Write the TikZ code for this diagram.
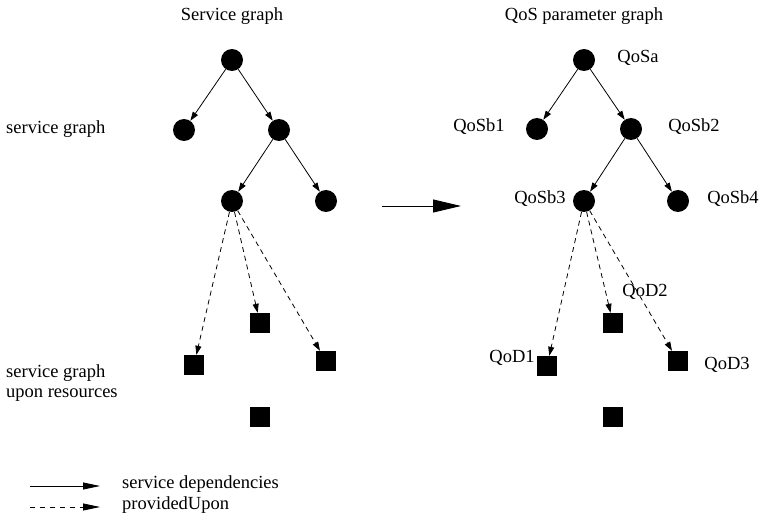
\documentclass[tikz,border=0pt]{standalone}
\usepackage{fontspec}
\setmainfont{Liberation Serif}
\usetikzlibrary{arrows.meta,positioning}

\begin{document}
\begin{tikzpicture}[
  x=1pt, y=-1pt,
  every node/.style={font=\fontsize{18.5}{20}\selectfont, inner sep=0pt},
  svc/.style={circle, fill=black, minimum size=22pt},
  res/.style={rectangle, fill=black, minimum size=20pt},
  dep/.style={-{Triangle[length=9pt,width=6pt]}, line width=0.8pt},
  upon/.style={dep, dash pattern=on 5pt off 4pt},
  lbl/.style={anchor=mid}
]
  \useasboundingbox (0,0) rectangle (761,524);

  % titles and row labels
  \node[lbl] (t1) at (232,18) {Service graph};
  \node[lbl] (t2) at (584,18) {QoS parameter graph};
  \node[lbl, anchor=mid west] (r1) at (6,131) {service graph};
  \node[anchor=west, align=left] (r2) at (6,383) {service graph\\upon resources};

  % service graph (left)
  \node[svc] (a)  at (232,60)  {};
  \node[svc] (b1) at (184,130) {};
  \node[svc] (b2) at (279,130) {};
  \node[svc] (b3) at (232,201) {};
  \node[svc] (b4) at (326,201) {};
  \node[res] (d1) at (194,365) {};
  \node[res] (d2) at (260,323) {};
  \node[res] (d3) at (326,361) {};
  \node[res] (d4) at (260,417) {};

  \draw[dep] (a) -- (b1);
  \draw[dep] (a) -- (b2);
  \draw[dep] (b2) -- (b3);
  \draw[dep] (b2) -- (b4);
  \draw[upon] (b3) -- (d1);
  \draw[upon] (b3) -- (d2);
  \draw[upon] (b3) -- (d3);

  % mapping arrow
  \coordinate (m1) at (382,206);
  \coordinate (m2) at (461,206);
  \draw[-{Triangle[length=28pt,width=13pt]}, line width=0.8pt] (m1) -- (m2);

  % QoS parameter graph (right)
  \node[svc] (qa)  at (584,60)  {};
  \node[svc] (qb1) at (537,129) {};
  \node[svc] (qb2) at (631,129) {};
  \node[svc] (qb3) at (584,201) {};
  \node[svc] (qb4) at (678,201) {};
  \node[res] (qd1) at (547,366) {};
  \node[res] (qd2) at (613,323) {};
  \node[res] (qd3) at (678,361) {};
  \node[res] (qd4) at (613,417) {};

  \draw[dep] (qa) -- (qb1);
  \draw[dep] (qa) -- (qb2);
  \draw[dep] (qb2) -- (qb3);
  \draw[dep] (qb2) -- (qb4);
  \draw[upon] (qb3) -- (qd1);
  \draw[upon] (qb3) -- (qd2);
  \draw[upon] (qb3) -- (qd3);

  \node[lbl] (la)  at (638,60)  {QoSa};
  \node[lbl] (lb1) at (479,129) {QoSb1};
  \node[lbl] (lb2) at (694,129) {QoSb2};
  \node[lbl] (lb3) at (540,201) {QoSb3};
  \node[lbl] (lb4) at (733,201) {QoSb4};
  \node[lbl] (ld1) at (512,360) {QoD1};
  \node[lbl] (ld2) at (645,294) {QoD2};
  \node[lbl] (ld3) at (727,367) {QoD3};

  % legend
  \coordinate (k1) at (30,486);
  \coordinate (k2) at (100,486);
  \coordinate (k3) at (30,507);
  \coordinate (k4) at (100,507);
  \draw[-{Triangle[length=17pt,width=7pt]}, line width=0.8pt] (k1) -- (k2);
  \draw[-{Triangle[length=17pt,width=7pt]}, line width=0.8pt, dash pattern=on 5pt off 5pt] (k3) -- (k4);
  \node[lbl, anchor=mid west] (kt1) at (122,486) {service dependencies};
  \node[lbl, anchor=mid west] (kt2) at (122,507) {providedUpon};
\end{tikzpicture}
\end{document}
